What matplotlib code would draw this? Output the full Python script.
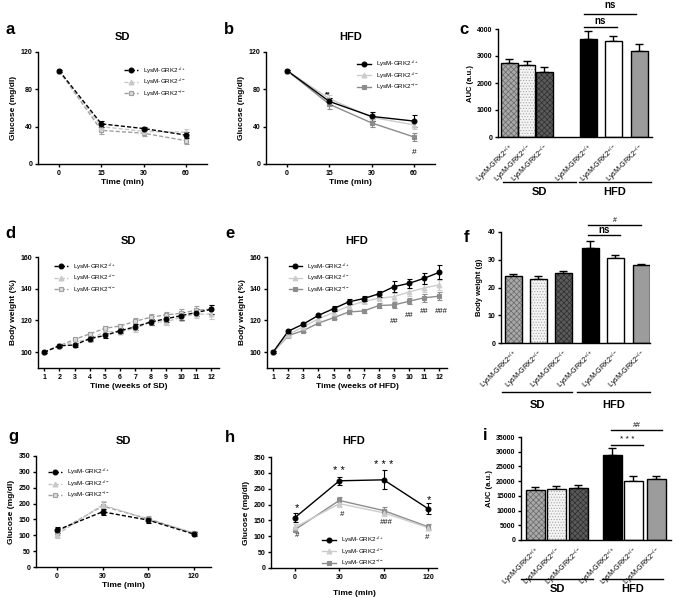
import matplotlib.pyplot as plt
import matplotlib.transforms as mtransforms

# ── FONTS ──
plt.rcParams['font.family'] = ['Liberation Sans', 'DejaVu Sans']
plt.rcParams['font.weight'] = 'bold'
plt.rcParams['mathtext.default'] = 'regular'
plt.rcParams['hatch.linewidth'] = 0.5

W, H = 677, 598

# ── DATA ──
genos = ['LysM-GRK2$^{+/+}$', 'LysM-GRK2$^{+/-}$', 'LysM-GRK2$^{-/-}$']
bar_labels = genos * 2

itt_times = ['0', '15', '30', '60']
itt_sd = [[100, 43, 38, 31], [100, 40, 35, 34], [100, 36, 33, 25]]
itt_sd_err = [[1, 3, 2, 3], [1, 4, 2, 3], [1, 4, 3, 4]]
itt_hfd = [[100, 67, 51, 46], [100, 70, 50, 42], [100, 64, 44, 29]]
itt_hfd_err = [[1, 4, 5, 6], [1, 4, 4, 4], [1, 5, 4, 4]]

itt_auc = [2730, 2670, 2420, 3630, 3560, 3190]
itt_auc_err = [150, 130, 170, 280, 170, 250]

weeks = list(range(1, 13))
bw_sd = [[100, 104, 104.5, 108.5, 110.5, 113.5, 116, 119, 121, 123, 125, 127],
         [100, 104, 106.5, 108, 113, 113, 115, 119, 119, 122, 124, 124],
         [100, 104, 108, 111.5, 115, 116.5, 119.5, 122, 123.5, 124.5, 126.5, 127]]
bw_sd_err = [[0.5, 1, 1, 1.5, 1.5, 1.5, 2, 2, 2, 2.5, 2.5, 3],
             [0.5, 1, 1, 1.5, 1.5, 1.5, 2, 2, 2, 2.5, 2.5, 3],
             [0.5, 1, 1, 1.5, 1.5, 1.5, 2, 2, 2, 2.5, 2.5, 3]]
bw_hfd = [[100, 113.2, 117.7, 123.2, 127.4, 131.7, 133.8, 136.8, 141.3, 143.4, 146.6, 150.4],
          [100, 111, 116, 121, 125, 129, 132, 134, 135, 138, 140.5, 142.5],
          [100, 110.4, 113.6, 118.3, 121.7, 125.3, 126, 129.4, 129.8, 132.1, 134.3, 135.3]]
bw_hfd_err = [[0.5, 1, 1, 1, 1.5, 1.5, 1.5, 2, 3.5, 3, 3.5, 4.5],
              [0.5, 1, 1, 1, 1, 1.5, 1.5, 2, 2.5, 2.5, 2.5, 3],
              [0.5, 1, 1, 1, 1, 1.5, 1.5, 1.5, 2, 2, 2.5, 2.5]]

bw_final = [24.3, 23.0, 25.1, 34.2, 30.5, 28.0]
bw_final_err = [0.4, 1.2, 1.0, 2.7, 1.2, 0.6]

gtt_times = ['0', '30', '60', '120']
gtt_sd = [[116, 174, 148, 104], [102, 196, 150, 108], [110, 192, 152, 106]]
gtt_sd_err = [[10, 10, 8, 5], [10, 12, 8, 5], [8, 12, 8, 5]]
gtt_hfd = [[159, 275, 278, 187], [128, 203, 174, 127], [121, 213, 181, 130]]
gtt_hfd_err = [[13, 13, 30, 17], [10, 12, 10, 8], [8, 12, 12, 8]]

gtt_auc = [16900, 17500, 17700, 29000, 20100, 20700]
gtt_auc_err = [1000, 700, 900, 2400, 1600, 1100]

fig = plt.figure(figsize=(W / 100, H / 100), dpi=100)


def px_axes(left, top, right, bottom):
    return fig.add_axes([left / W, 1 - bottom / H, (right - left) / W, (bottom - top) / H])


def style(ax):
    for s in ['top', 'right']:
        ax.spines[s].set_visible(False)
    for s in ['left', 'bottom']:
        ax.spines[s].set_linewidth(1.0)
    ax.tick_params(labelsize=5, width=1.0, length=2.5, pad=1.5)


def panel_label(x, y, s):
    fig.text(x / W, 1 - y / H, s, fontsize=12, weight='bold', ha='center', va='center')


def title(ax, s):
    ax.set_title(s, fontsize=8, weight='bold', pad=9)


sd_styles = [dict(color='black', marker='o', mfc='black', mec='black'),
             dict(color='#c8c8c8', marker='^', mfc='#c8c8c8', mec='#c8c8c8'),
             dict(color='#a0a0a0', marker='s', mfc='#dcdcdc', mec='#a0a0a0')]
hfd_styles = [dict(color='black', marker='o', mfc='black', mec='black'),
              dict(color='#cccccc', marker='^', mfc='#cccccc', mec='#cccccc'),
              dict(color='#8c8c8c', marker='s', mfc='#8c8c8c', mec='#8c8c8c')]


def line_panel(ax, x, ys, errs, styles, ls, leg_anchor):
    handles = []
    for i in [2, 1, 0]:
        st = styles[i]
        ax.errorbar(x, ys[i], yerr=errs[i], color=st['color'], ls=ls, lw=1.0,
                    elinewidth=0.8, capsize=1.8, capthick=0.8, zorder=3 + (2 - i))
        ax.plot(x, ys[i], ls='none', marker=st['marker'], ms=3.5, mfc=st['mfc'],
                mec=st['mec'], mew=0.8, zorder=6 + (2 - i))
    for i in range(3):
        st = styles[i]
        h, = ax.plot([], [], color=st['color'], ls=ls, lw=1.0, marker=st['marker'],
                     ms=3.5, mfc=st['mfc'], mec=st['mec'], mew=0.8)
        handles.append(h)
    ax.legend(handles, genos, loc='upper left', bbox_to_anchor=leg_anchor,
              frameon=False, prop=dict(size=4.5, weight='normal'),
              handlelength=2.2, labelspacing=0.2, handletextpad=0.8,
              borderaxespad=0, borderpad=0)
    style(ax)


bar_styles = [dict(fc='#a8a8a8', hatch='xxxxxx', hc='#6a6a6a'),
              dict(fc='#f4f4f4', hatch='......', hc='#a8a8a8'),
              dict(fc='#5a5a5a', hatch='xxxxxx', hc='#2e2e2e'),
              dict(fc='black', hatch=None, hc='black'),
              dict(fc='white', hatch=None, hc='white'),
              dict(fc='#9c9c9c', hatch=None, hc='#9c9c9c')]


def bar_panel(ax, centers, width, vals, errs, sd_span, hfd_span, line_y, text_y):
    for xc, v, e, st in zip(centers, vals, errs, bar_styles):
        ax.bar(xc, v, width, color=st['fc'], edgecolor=st['hc'], hatch=st['hatch'],
               linewidth=0, zorder=2)
        ax.bar(xc, v, width, fill=False, edgecolor='black', linewidth=1.0, zorder=3)
        ax.errorbar(xc, v, yerr=[[0], [e]], color='black', capsize=3, elinewidth=1.0,
                    capthick=1.0, zorder=1)
    style(ax)
    ax.set_xticks(centers)
    ax.set_xticklabels(bar_labels, rotation=45, ha='right', rotation_mode='anchor',
                       fontsize=5.2, weight='normal')
    ax.tick_params(axis='x', length=0, pad=3)
    trans = mtransforms.blended_transform_factory(ax.transData, fig.transFigure)
    for span, lab in [(sd_span, 'SD'), (hfd_span, 'HFD')]:
        ax.plot(span, [1 - line_y / H] * 2, color='black', lw=1.0, transform=trans,
                clip_on=False)
        ax.text(sum(span) / 2, 1 - text_y / H, lab, transform=trans, fontsize=8,
                weight='bold', ha='center', va='center')


def bracket(ax, x1, x2, y, ty, s, **kw):
    ax.plot([x1, x2], [y, y], color='black', lw=1.0, clip_on=False)
    ax.text((x1 + x2) / 2, ty, s, ha='center', va='center', clip_on=False, **kw)


# ── PANEL a ──
ax = px_axes(38, 52, 207, 164)
line_panel(ax, range(4), itt_sd, itt_sd_err, sd_styles, (0, (3, 1.5)), (0.51, 0.88))
ax.set_xlim(-0.5, 3.5)
ax.set_ylim(0, 120)
ax.set_yticks([0, 40, 80, 120])
ax.set_xticks(range(4))
ax.set_xticklabels(itt_times)
ax.set_xlabel('Time (min)', fontsize=6, weight='bold', labelpad=2)
ax.set_ylabel('Glucose (mg/dl)', fontsize=6, weight='bold', labelpad=3)
title(ax, 'SD')
panel_label(10, 29, 'a')

# ── PANEL b ──
ax = px_axes(266, 52, 435, 164)
line_panel(ax, range(4), itt_hfd, itt_hfd_err, hfd_styles, '-', (0.54, 0.94))
ax.set_xlim(-0.5, 3.5)
ax.set_ylim(0, 120)
ax.set_yticks([0, 40, 80, 120])
ax.set_xticks(range(4))
ax.set_xticklabels(itt_times)
ax.set_xlabel('Time (min)', fontsize=6, weight='bold', labelpad=2)
ax.set_ylabel('Glucose (mg/dl)', fontsize=6, weight='bold', labelpad=3)
ax.text(0.95, 74, '**', fontsize=5, ha='center', va='center')
ax.text(3, 12, '#', fontsize=6, ha='center', va='center', weight='normal')
title(ax, 'HFD')
panel_label(229, 29, 'b')

# ── PANEL c ──
ax = px_axes(498, 29, 652, 137)
c_centers = [11, 28.5, 46, 90, 115, 141]
bar_panel(ax, c_centers, 17, itt_auc, itt_auc_err, [5, 78], [81, 153], 182, 192)
ax.set_xlim(0, 154)
ax.set_ylim(0, 4000)
ax.set_yticks([0, 1000, 2000, 3000, 4000])
ax.set_ylabel('AUC (a.u.)', fontsize=5.5, weight='bold', labelpad=2)
bracket(ax, 86, 119, 4080, 4300, 'ns', fontsize=7)
bracket(ax, 86, 138, 4560, 4880, 'ns', fontsize=7)
panel_label(464, 30, 'c')

# ── PANEL d ──
ax = px_axes(38, 257, 219, 368)
line_panel(ax, weeks, bw_sd, bw_sd_err, sd_styles, (0, (3, 1.5)), (0.09, 0.96))
ax.set_xlim(0.6, 12.5)
ax.set_ylim(90, 160)
ax.set_yticks([100, 120, 140, 160])
ax.set_xticks(weeks)
ax.set_xlabel('Time (weeks of SD)', fontsize=6, weight='bold', labelpad=2)
ax.set_ylabel('Body weight (%)', fontsize=6, weight='bold', labelpad=3)
title(ax, 'SD')
panel_label(10, 234, 'd')

# ── PANEL e ──
ax = px_axes(267, 257, 447, 368)
line_panel(ax, weeks, bw_hfd, bw_hfd_err, hfd_styles, '-', (0.12, 0.96))
ax.set_xlim(0.6, 12.5)
ax.set_ylim(90, 160)
ax.set_yticks([100, 120, 140, 160])
ax.set_xticks(weeks)
ax.set_xlabel('Time (weeks of HFD)', fontsize=6, weight='bold', labelpad=2)
ax.set_ylabel('Body weight (%)', fontsize=6, weight='bold', labelpad=3)
for wk, yv, s in [(9, 119.5, '##'), (10, 123, '##'), (11, 125.5, '##'), (12.1, 125.5, '###')]:
    ax.text(wk, yv, s, fontsize=5.5, ha='center', va='center', style='italic',
            weight='normal', clip_on=False)
title(ax, 'HFD')
panel_label(230, 234, 'e')

# ── PANEL f ──
ax = px_axes(501, 232, 650, 343)
f_centers = [12, 37, 62, 89, 114, 140]
bar_panel(ax, f_centers, 17, bw_final, bw_final_err, [1, 71], [76, 149], 392, 405)
ax.set_xlim(0, 149)
ax.set_ylim(0, 40)
ax.set_yticks([0, 10, 20, 30, 40])
ax.set_ylabel('Body weight (g)', fontsize=5.5, weight='bold', labelpad=3)
bracket(ax, 87, 119, 38.9, 40.8, 'ns', fontsize=7)
bracket(ax, 87, 140, 42.5, 44.2, '#', fontsize=5, weight='normal')
panel_label(466, 237, 'f')

# ── PANEL g ──
ax = px_axes(36, 456, 211, 567)
line_panel(ax, range(4), gtt_sd, gtt_sd_err, sd_styles, (0, (3, 1.5)), (0.07, 0.9))
ax.set_xlim(-0.46, 3.38)
ax.set_ylim(0, 350)
ax.set_yticks(range(0, 351, 50))
ax.set_xticks(range(4))
ax.set_xticklabels(gtt_times)
ax.set_xlabel('Time (min)', fontsize=6, weight='bold', labelpad=2)
ax.set_ylabel('Glucose (mg/dl)', fontsize=6, weight='bold', labelpad=3)
title(ax, 'SD')
panel_label(13, 437, 'g')

# ── PANEL h ──
ax = px_axes(271, 457, 437, 568)
line_panel(ax, range(4), gtt_hfd, gtt_hfd_err, hfd_styles, '-', (0.31, 0.3))
ax.set_xlim(-0.54, 3.2)
ax.set_ylim(0, 350)
ax.set_yticks(range(0, 351, 50))
ax.set_xticks(range(4))
ax.set_xticklabels(gtt_times)
ax.set_xlabel('Time (min)', fontsize=6, weight='bold', labelpad=7)
ax.set_ylabel('Glucose (mg/dl)', fontsize=6, weight='bold', labelpad=3)
for xv, yv, s in [(0.05, 188, '*'), (1, 305, '* *'), (2, 325, '* * *'), (3.02, 214, '*')]:
    ax.text(xv, yv, s, fontsize=8, ha='center', va='center', weight='normal')
for xv, yv, s in [(0.05, 102, '#'), (1.07, 170, '#'), (2.05, 142, '###'), (2.98, 96, '#')]:
    ax.text(xv, yv, s, fontsize=5.5, ha='center', va='center', style='italic',
            weight='normal')
title(ax, 'HFD')
panel_label(230, 437, 'h')

# ── PANEL i ──
ax = px_axes(521, 437, 671, 540)
i_centers = [14, 35, 57, 91, 112, 135]
bar_panel(ax, i_centers, 19, gtt_auc, gtt_auc_err, [0, 72], [81, 142], 579, 589)
ax.set_xlim(0, 150)
ax.set_ylim(0, 35000)
ax.set_yticks(range(0, 35001, 5000))
ax.set_ylabel('AUC (a.u.)', fontsize=5.5, weight='bold', labelpad=2)
bracket(ax, 90, 122, 32200, 34200, '* * *', fontsize=6, weight='normal')
bracket(ax, 90, 141, 37300, 39000, '##', fontsize=5, style='italic', weight='normal')
panel_label(485, 436, 'i')

plt.savefig('out.png', dpi=100)
